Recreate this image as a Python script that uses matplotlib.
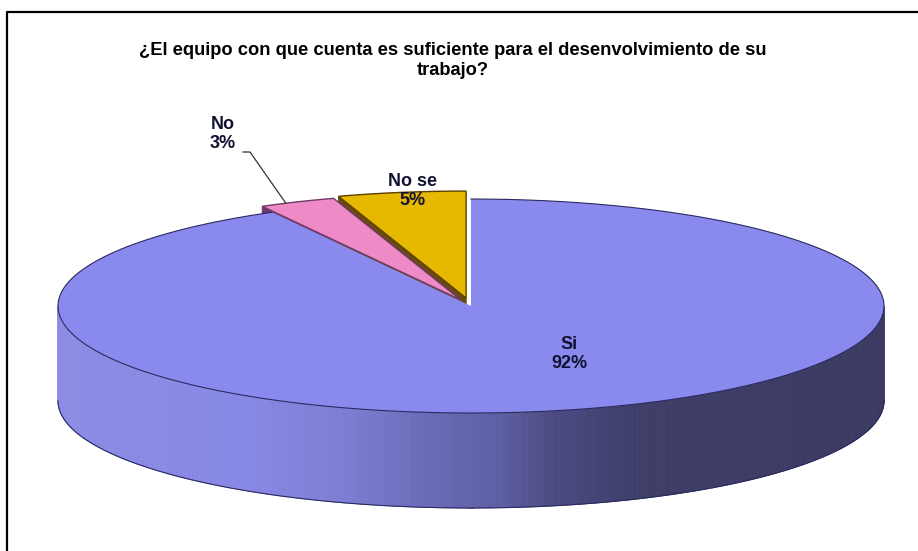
import numpy as np
import matplotlib
matplotlib.use("Agg")
import matplotlib.pyplot as plt
from matplotlib.patches import Polygon
from matplotlib.collections import PolyCollection
from matplotlib.lines import Line2D

# datos de la encuesta
labels = ["Si", "No", "No se"]
values = [92, 3, 5]
top_colors = ["#8A8AEE", "#EE8AC6", "#E6B800"]
edge_colors = ["#2A2A60", "#6E3A68", "#5E4000"]
face_colors = ["#3A3A70", "#6E3A6E", "#6A4A10"]
explode = [0.0, 0.06, 0.075]
title = "¿El equipo con que cuenta es suficiente para el desenvolvimiento de su\ntrabajo?"

plt.rcParams["font.family"] = ["Liberation Sans", "DejaVu Sans"]

# geometría del pastel 3D (en píxeles)
W, H = 918, 551
cx, cy = 471, 306
a, b = 413, 107
depth = 95

fig = plt.figure(figsize=(W / 100, H / 100), dpi=100)
ax = fig.add_axes([0, 0, 1, 1])
ax.set_xlim(0, W)
ax.set_ylim(H, 0)
ax.axis("off")


def rim(t, off=(0, 0), z=0):
    return (cx + a * np.sin(t) + off[0], cy - b * np.cos(t) + off[1] + z)


def side_color(x):
    u = (x - (cx - a)) / (2 * a)
    us = [0.0, 0.23, 0.35, 0.44, 0.53, 0.60, 0.70, 1.0]
    r = [140, 136, 125, 108, 95, 75, 62, 58]
    bl = [228, 230, 210, 185, 165, 130, 105, 98]
    rr = np.interp(u, us, r) / 255
    return (rr, rr, np.interp(u, us, bl) / 255)


total = sum(values)
fracs = np.array(values) / total
ends = np.cumsum(fracs) * 2 * np.pi
starts = ends - fracs * 2 * np.pi

offsets = []
for s, e, ex in zip(starts, ends, explode):
    tm = (s + e) / 2
    offsets.append((a * ex * np.sin(tm), -b * ex * np.cos(tm)))

# 1) caras radiales de las porciones separadas
for i in range(len(values)):
    if explode[i] == 0:
        continue
    off = offsets[i]
    apex = (cx + off[0], cy + off[1])
    p = rim(starts[i], off)
    poly = [apex, p, (p[0], p[1] + depth), (apex[0], apex[1] + depth)]
    ax.add_patch(Polygon(poly, closed=True, facecolor=face_colors[i],
                         edgecolor=edge_colors[i], lw=0.6, zorder=1))

# 2) porción principal: pared lateral con degradado y cara superior
for i in range(len(values)):
    if explode[i] != 0:
        continue
    off = offsets[i]
    t0 = max(starts[i], np.pi / 2)
    t1 = min(ends[i], 3 * np.pi / 2)
    if t1 > t0:
        ts = np.linspace(t0, t1, 240)
        strips, cols = [], []
        for ta, tb in zip(ts[:-1], ts[1:]):
            pa, pb = rim(ta, off), rim(tb, off)
            strips.append([pa, pb, (pb[0], pb[1] + depth), (pa[0], pa[1] + depth)])
            cols.append(side_color((pa[0] + pb[0]) / 2))
        ax.add_collection(PolyCollection(strips, facecolors=cols, edgecolors=cols,
                                         linewidths=0.6, zorder=2))
        bottom = np.array([rim(t, off, depth) for t in ts])
        ax.add_line(Line2D(bottom[:, 0], bottom[:, 1], color=edge_colors[i], lw=0.8, zorder=3))
    ts = np.linspace(starts[i], ends[i], 400)
    arc = np.array([rim(t, off) for t in ts])
    apex = np.array([[cx + off[0], cy + off[1]]])
    ax.add_patch(Polygon(np.vstack([apex, arc]), closed=True, facecolor=top_colors[i],
                         edgecolor="none", zorder=3))
    ax.add_line(Line2D(arc[:, 0], arc[:, 1], color=edge_colors[i], lw=0.8, zorder=4))

# 3) caras superiores de las porciones separadas
for i in range(len(values)):
    if explode[i] == 0:
        continue
    off = offsets[i]
    ts = np.linspace(starts[i], ends[i], 60)
    arc = np.array([rim(t, off) for t in ts])
    apex = np.array([[cx + off[0], cy + off[1]]])
    ax.add_patch(Polygon(np.vstack([apex, arc]), closed=True, facecolor=top_colors[i],
                         edgecolor=edge_colors[i], lw=1.0, zorder=5))

# etiquetas
lab_kw = dict(ha="center", va="center", fontsize=13, fontweight="bold",
              color="#111133", linespacing=1.15, zorder=6)
ax.text(569, 354, f"{labels[0]}\n{values[0]}%", **lab_kw)
ax.text(223, 134, f"{labels[1]}\n{values[1]}%", **lab_kw)
ax.text(412, 191, f"{labels[2]}\n{values[2]}%", **lab_kw)

# línea guía de "No"
tip = rim((starts[1] + ends[1]) / 2 - 0.03, offsets[1])
ax.add_line(Line2D([243, 250, tip[0]], [152, 152, tip[1]], color="#333333", lw=0.9, zorder=6))

ax.text(453, 42, title, ha="center", va="top", fontsize=13.2, fontweight="bold",
        color="black", linespacing=1.2)

# marco del gráfico
ax.add_line(Line2D([7, 7, W + 5], [H + 5, 12, 12], color="black", lw=1.6, zorder=7))

fig.savefig("out.png", dpi=100)
